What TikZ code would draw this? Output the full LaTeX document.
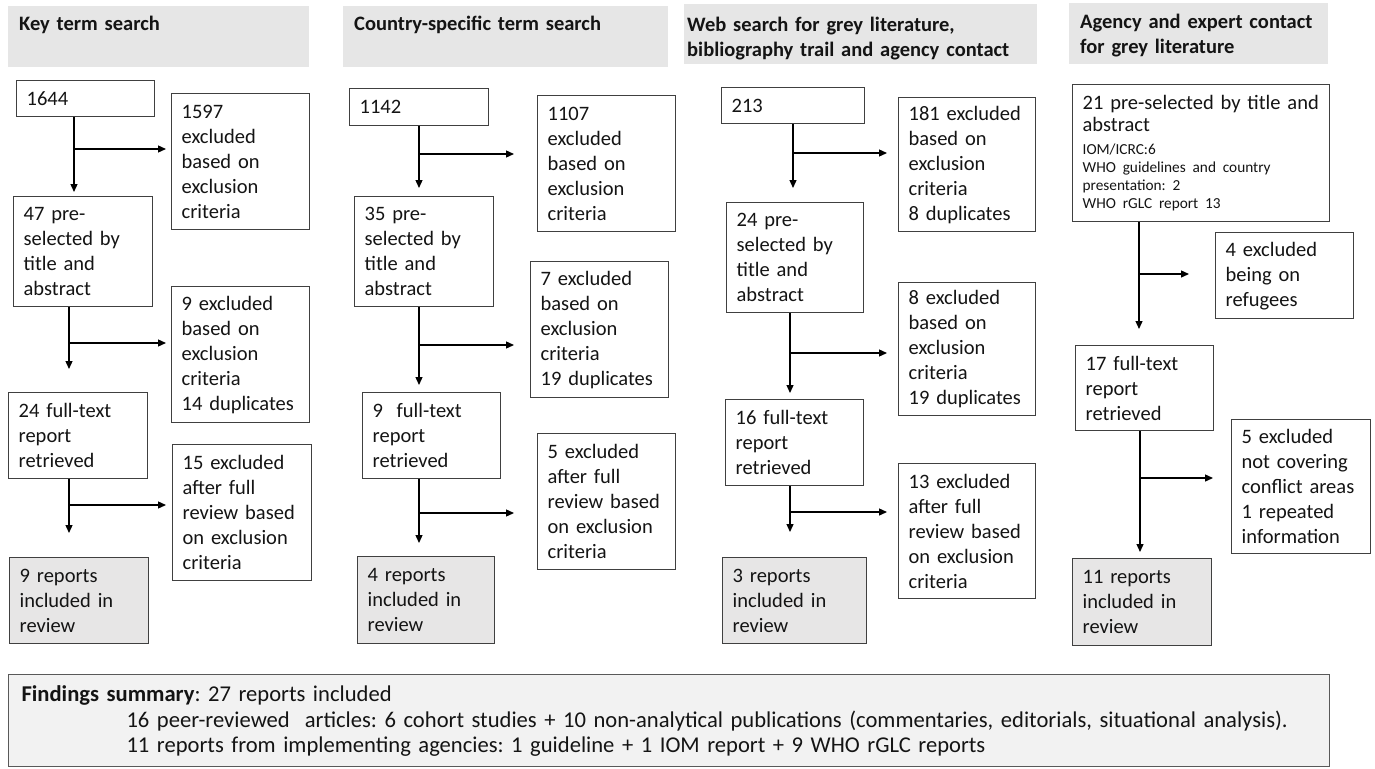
\documentclass[tikz,border=0pt]{standalone}
\usepackage{fontspec}
\setmainfont{Carlito}
\usetikzlibrary{arrows.meta}
\definecolor{boxline}{HTML}{404040}
\definecolor{hdrfill}{HTML}{E6E6E6}
\definecolor{resfill}{HTML}{E7E6E6}
\definecolor{sumfill}{HTML}{F2F2F2}
\definecolor{sumline}{HTML}{595959}
\definecolor{txt}{HTML}{141414}
\newcommand\mainsize{\fontsize{20.5}{25}\selectfont}
\newcommand\smallsize{\fontsize{15.3}{18}\selectfont}
\newcommand\sumsize{\fontsize{22.6}{25.5}\selectfont}
\frenchspacing
\begin{document}
\begin{tikzpicture}[x=1pt,y=-1pt,
  flow/.style={draw=boxline, line width=1.3pt, fill=white, anchor=north west, inner xsep=10pt, inner ysep=2pt, align=left, font=\mainsize\frenchspacing, text=txt},
  result/.style={flow, fill=resfill},
  hdr/.style={fill=hdrfill, anchor=north west, inner ysep=0pt, align=left, font=\mainsize\bfseries, text=txt},
  arr/.style={draw=black, line width=1.3pt, -{Triangle[length=8pt,width=7pt]}},
]
\useasboundingbox (0,0) rectangle (1375,768);

% headers
\node[hdr, inner xsep=11pt, text width=279pt, text height=24pt, text depth=37pt] (h1) at (8,6) {Key term search};
\node[hdr, inner xsep=11pt, text width=303pt, text height=24pt, text depth=37pt] (h2) at (343,6) {Country-specific term search};
\node[hdr, inner xsep=3pt, text width=347pt, text height=27pt, text depth=33pt] (h3) at (684,4) {Web search for grey literature,\\bibliography trail and agency contact};
\node[hdr, inner xsep=11pt, text width=237pt, text height=25pt, text depth=36pt] (h4) at (1069,3) {Agency and expert contact\\for grey literature};

% column 1
\node[flow, minimum width=138pt, minimum height=36pt, text width=118pt] (a1) at (16,80) {1644};
\node[flow, minimum width=138pt, minimum height=136pt, text width=118pt] (e1a) at (171,93) {1597\\excluded\\based on\\exclusion\\criteria};
\node[flow, minimum width=139pt, minimum height=110pt, text width=119pt] (a2) at (13,196) {47 pre-\\selected by\\title and\\abstract};
\node[flow, minimum width=138pt, minimum height=136pt, text width=118pt] (e1b) at (171,286) {9 excluded\\based on\\exclusion\\criteria\\14 duplicates};
\node[flow, minimum width=139pt, minimum height=86pt, text width=119pt] (a3) at (8,392) {24 full-text\\report\\retrieved};
\node[flow, minimum width=139pt, minimum height=136pt, text width=119pt] (e1c) at (172,444) {15 excluded\\after full\\review based\\on exclusion\\criteria};
\node[result, minimum width=139pt, minimum height=86pt, text width=119pt] (r1) at (9,557) {9 reports\\included in\\review};

% column 2
\node[flow, minimum width=139pt, minimum height=37pt, text width=119pt] (b1) at (349,88) {1142};
\node[flow, minimum width=138pt, minimum height=136pt, text width=118pt] (e2a) at (537,95) {1107\\excluded\\based on\\exclusion\\criteria};
\node[flow, minimum width=139pt, minimum height=110pt, text width=119pt] (b2) at (354,196) {35 pre-\\selected by\\title and\\abstract};
\node[flow, minimum width=138pt, minimum height=136pt, text width=118pt] (e2b) at (530,261) {7 excluded\\based on\\exclusion\\criteria\\19 duplicates};
\node[flow, minimum width=138pt, minimum height=86pt, text width=118pt] (b3) at (362,392) {9\ \ full-text\\report\\retrieved};
\node[flow, minimum width=138pt, minimum height=136pt, text width=118pt] (e2c) at (537,433) {5 excluded\\after full\\review based\\on exclusion\\criteria};
\node[result, minimum width=137pt, minimum height=87pt, text width=117pt] (r2) at (357,556) {4 reports\\included in\\review};

% column 3
\node[flow, minimum width=143pt, minimum height=36pt, text width=123pt] (c1) at (721,87) {213};
\node[flow, minimum width=137pt, minimum height=134pt, text width=117pt] (e3a) at (898,97) {181 excluded\\based on\\exclusion\\criteria\\8 duplicates};
\node[flow, minimum width=137pt, minimum height=110pt, text width=117pt] (c2) at (726,202) {24 pre-\\selected by\\title and\\abstract};
\node[flow, minimum width=137pt, minimum height=133pt, text width=117pt] (e3b) at (898,282) {8 excluded\\based on\\exclusion\\criteria\\19 duplicates};
\node[flow, minimum width=138pt, minimum height=86pt, text width=118pt] (c3) at (725,399) {16 full-text\\report\\retrieved};
\node[flow, minimum width=137pt, minimum height=135pt, text width=117pt] (e3c) at (898,463) {13 excluded\\after full\\review based\\on exclusion\\criteria};
\node[result, minimum width=144pt, minimum height=86pt, text width=124pt] (r3) at (722,557) {3 reports\\included in\\review};

% column 4
\node[flow, minimum width=257pt, minimum height=137pt, text width=237pt] (d1) at (1072,84) {{\fontsize{20.5}{22}\selectfont 21 pre-selected by title and\\abstract\par}\vspace{5pt}{\smallsize IOM/ICRC:6\\WHO guidelines and country\\presentation: 2\\WHO rGLC report 13\par}};
\node[flow, minimum width=138pt, minimum height=86pt, text width=118pt] (e4a) at (1215,232) {4 excluded\\being on\\refugees};
\node[flow, minimum width=138pt, minimum height=85pt, text width=118pt] (d2) at (1075,345) {17 full-text\\report\\retrieved};
\node[flow, minimum width=139pt, minimum height=134pt, text width=119pt] (e4b) at (1231,419) {5 excluded\\not covering\\conflict areas\\1 repeated\\information};
\node[result, minimum width=139pt, minimum height=87pt, text width=119pt] (r4) at (1072,558) {11 reports\\included in\\review};

% summary
\node[draw=sumline, line width=1pt, fill=sumfill, anchor=north west, inner xsep=13pt, inner ysep=0pt, text width=1295pt, text height=27pt, text depth=65pt, align=left, font=\sumsize\frenchspacing, text=txt] (sum) at (8,674)
 {\textbf{Findings summary}: 27 reports included\\
  \hspace*{105pt}\mbox{16 peer-reviewed\ \ articles: 6 cohort studies + 10 non-analytical publications (commentaries, editorials, situational analysis).}\\
  \hspace*{105pt}\mbox{11 reports from implementing agencies: 1 guideline + 1 IOM report + 9 WHO rGLC reports}};

% connectors column 1
\coordinate (v1a) at (74,0);
\coordinate (v1b) at (69,0);
\draw[arr, shorten >=4pt] (a1.south -| v1a) -- (a2.north -| v1a);
\coordinate (j1a) at (74,149);
\draw[arr, shorten >=5pt] (j1a) -- (j1a -| e1a.west);
\draw[arr, shorten >=23pt] (a2.south -| v1b) -- (a3.north -| v1b);
\coordinate (j1b) at (69,343);
\draw[arr, shorten >=5pt] (j1b) -- (j1b -| e1b.west);
\draw[arr, shorten >=24pt] (a3.south -| v1b) -- (r1.north -| v1b);
\coordinate (j1c) at (69,505);
\draw[arr, shorten >=6pt] (j1c) -- (j1c -| e1c.west);

% connectors column 2
\coordinate (v2) at (419,0);
\draw[arr, shorten >=8pt] (b1.south -| v2) -- (b2.north -| v2);
\coordinate (j2a) at (419,154);
\draw[arr, shorten >=23pt] (j2a) -- (j2a -| e2a.west);
\draw[arr, shorten >=7pt] (b2.south -| v2) -- (b3.north -| v2);
\coordinate (j2b) at (419,345);
\draw[arr, shorten >=16pt] (j2b) -- (j2b -| e2b.west);
\draw[arr, shorten >=13pt] (b3.south -| v2) -- (r2.north -| v2);
\coordinate (j2c) at (419,513);
\draw[arr, shorten >=23pt] (j2c) -- (j2c -| e2c.west);

% connectors column 3
\coordinate (v3a) at (793,0);
\coordinate (v3b) at (790,0);
\draw[arr, shorten >=14pt] (c1.south -| v3a) -- (c2.north -| v3a);
\coordinate (j3a) at (793,153);
\draw[arr, shorten >=11pt] (j3a) -- (j3a -| e3a.west);
\draw[arr, shorten >=6pt] (c2.south -| v3b) -- (c3.north -| v3b);
\coordinate (j3b) at (790,353);
\draw[arr, shorten >=11pt] (j3b) -- (j3b -| e3b.west);
\draw[arr, shorten >=25pt] (c3.south -| v3b) -- (r3.north -| v3b);
\coordinate (j3c) at (790,512);
\draw[arr, shorten >=11pt] (j3c) -- (j3c -| e3c.west);

% connectors column 4
\coordinate (v4a) at (1139,0);
\coordinate (v4b) at (1140,0);
\draw[arr, shorten >=16pt] (d1.south -| v4a) -- (d2.north -| v4a);
\coordinate (j4a) at (1139,274);
\draw[arr, shorten >=26pt] (j4a) -- (j4a -| e4a.west);
\draw[arr, shorten >=6pt] (d2.south -| v4b) -- (r4.north -| v4b);
\coordinate (j4b) at (1140,478);
\draw[arr, shorten >=18pt] (j4b) -- (j4b -| e4b.west);
\end{tikzpicture}
\end{document}
